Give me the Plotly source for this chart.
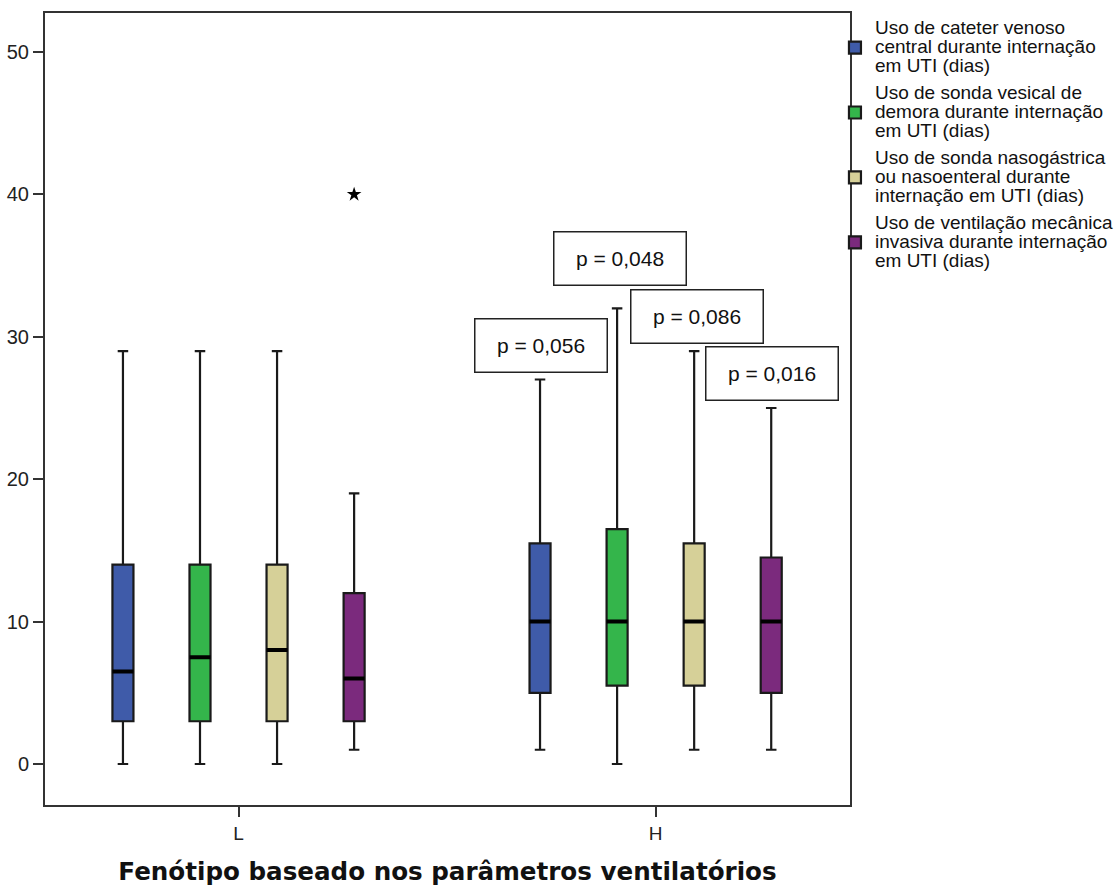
import plotly.graph_objects as go

# ---- data ----
groups = ["L", "H"]

legend_lines = [
    ["Uso de cateter venoso", "central durante internação", "em UTI (dias)"],
    ["Uso de sonda vesical de", "demora durante internação", "em UTI (dias)"],
    ["Uso de sonda nasogástrica", "ou nasoenteral durante", "internação em UTI (dias)"],
    ["Uso de ventilação mecânica", "invasiva durante internação", "em UTI (dias)"],
]
colors = ["#3F5BA9", "#34B54B", "#D6D098", "#7B2A7D"]

lower = [[0, 1], [0, 0], [0, 1], [1, 1]]
q1 = [[3, 5], [3, 5.5], [3, 5.5], [3, 5]]
median = [[6.5, 10], [7.5, 10], [8, 10], [6, 10]]
q3 = [[14, 15.5], [14, 16.5], [14, 15.5], [12, 14.5]]
upper = [[29, 27], [29, 32], [29, 29], [19, 25]]
outliers = [None, None, None, [[40], []]]

p_labels = ["p = 0,056", "p = 0,048", "p = 0,086", "p = 0,016"]
p_y = [29.4, 35.5, 31.45, 27.4]
p_xpaper = [0.616, 0.7137, 0.81, 0.9025]

x_title = "Fenótipo baseado nos parâmetros ventilatórios"
y_ticks = [0, 10, 20, 30, 40, 50]

# ---- figure ----
fig = go.Figure()
for i in range(4):
    name = "<br>".join('<span style="font-size:19px">%s</span>' % ln for ln in legend_lines[i])
    kw = {}
    if outliers[i] is not None:
        kw["y"] = outliers[i]
    fig.add_trace(go.Box(
        x=groups,
        q1=q1[i], median=median[i], q3=q3[i],
        lowerfence=lower[i], upperfence=upper[i],
        name=name, offsetgroup=str(i), legendgroup=str(i),
        fillcolor=colors[i],
        line=dict(color="#1a1a1a", width=2.2),
        whiskerwidth=0.5,
        boxpoints="outliers",
        marker=dict(symbol="star", color="black", size=11, line=dict(width=0)),
        showlegend=True,
        **kw,
    ))
for i in range(4):
    fig.add_trace(go.Box(
        x=groups,
        q1=median[i], median=median[i], q3=median[i],
        lowerfence=median[i], upperfence=median[i],
        offsetgroup=str(i), legendgroup=str(i),
        fillcolor="rgba(0,0,0,0)",
        line=dict(color="black", width=4),
        whiskerwidth=0,
        boxpoints=False,
        showlegend=False,
        hoverinfo="skip",
    ))

for lab, yy, xp in zip(p_labels, p_y, p_xpaper):
    fig.add_annotation(
        x=xp, xref="paper", y=yy, yref="y",
        xanchor="center", yanchor="middle",
        text=lab, showarrow=False,
        font=dict(family="Arial, Liberation Sans", size=21, color="#111"),
        width=131, height=52, borderpad=0,
        bordercolor="#222", borderwidth=1.5, bgcolor="white",
        align="center", valign="middle",
    )

fig.update_layout(
    width=1120, height=886,
    paper_bgcolor="white", plot_bgcolor="white",
    margin=dict(l=45, r=270, t=13, b=81, autoexpand=False),
    boxmode="group", boxgap=0.261, boxgroupgap=0.727,
    font=dict(family="Arial, Liberation Sans", color="#222"),
    legend=dict(
        xref="container", yref="container",
        x=0.7455, xanchor="left", y=0.9858, yanchor="top",
        font=dict(family="Arial, Liberation Sans", size=14.6, color="#111"),
        bgcolor="rgba(0,0,0,0)", itemwidth=30, tracegroupgap=5,
    ),
    showlegend=True,
)
fig.update_xaxes(
    type="category", range=[-0.464, 1.466],
    showline=True, linecolor="#333", linewidth=2, mirror=True,
    ticks="outside", ticklen=10, tickwidth=1.5, tickcolor="#333",
    tickfont=dict(size=19, color="#222"),
    showgrid=False, zeroline=False,
    title=dict(text="<b>%s</b>" % x_title, standoff=24,
               font=dict(family="DejaVu Sans", size=24.6, color="#111")),
)
fig.update_yaxes(
    range=[-2.88, 52.74], tickvals=y_ticks,
    showline=True, linecolor="#333", linewidth=2, mirror=True,
    ticks="outside", ticklen=10, tickwidth=1.5, tickcolor="#333",
    tickfont=dict(size=20, color="#222"),
    showgrid=False, zeroline=False,
)

fig.write_html("out.html")
